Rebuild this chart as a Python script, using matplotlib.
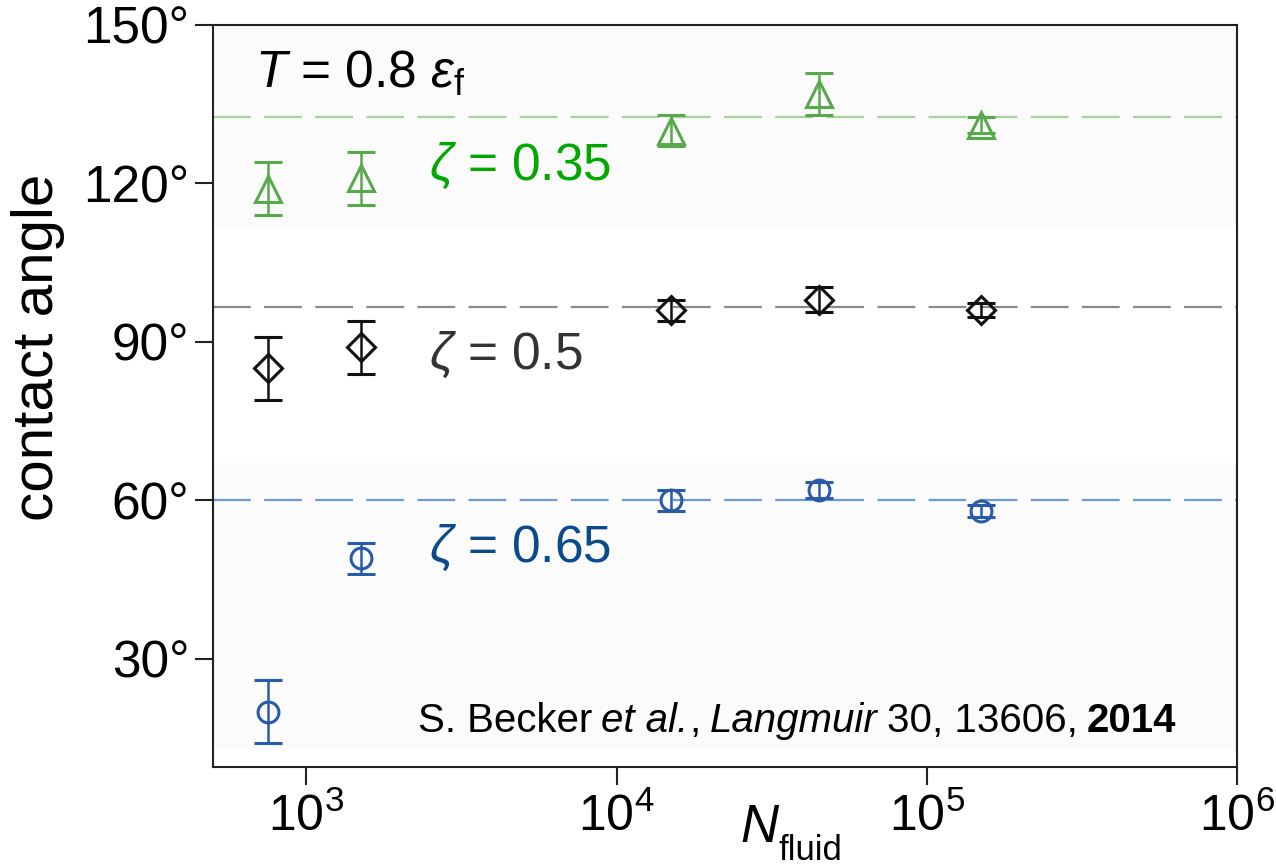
import matplotlib
matplotlib.use('Agg')
import matplotlib.pyplot as plt
from matplotlib import font_manager

# data
n_fluid = [750, 1500, 15000, 45000, 150000]

angle_035 = [119, 121, 130, 137, 131]
err_035 = [5, 5, 3, 4, 1.5]
angle_05 = [85, 89, 96, 98, 96]
err_05 = [6, 5, 2, 2.3, 1.3]
angle_065 = [20, 49, 60, 62, 58]
err_065 = [6, 3, 2, 1.5, 1.1]

ref_angles = [132.5, 96.6, 60]
zeta_labels = ['0.35', '0.5', '0.65']
zeta_text_y = [120.7, 84.9, 48.4]

y_ticks = [30, 60, 90, 120, 150]
x_ticks = [1e3, 1e4, 1e5, 1e6]
x_ticklabels = [r'$\mathregular{10^{3}}$', r'$\mathregular{10^{4}}$',
                r'$\mathregular{10^{5}}$', r'$\mathregular{10^{6}}$']

names = {f.name for f in font_manager.fontManager.ttflist}
narrow = 'Liberation Sans Narrow' if 'Liberation Sans Narrow' in names else 'Liberation Sans'

plt.rcParams['font.family'] = ['Liberation Sans', 'DejaVu Sans']
plt.rcParams['mathtext.fontset'] = 'custom'
plt.rcParams['mathtext.rm'] = 'Liberation Sans'
plt.rcParams['mathtext.it'] = 'Liberation Sans:italic'

fig = plt.figure(figsize=(12.76, 8.65), dpi=100)
ax = fig.add_axes([213 / 1276, 1 - 767 / 865, 1024 / 1276, 742 / 865])

ax.set_xscale('log')
ax.set_xlim(500, 1e6)
ax.set_ylim(9.5, 150)

# faint background bands
ax.axhspan(111.8, 150, color='#fbfbfb', zorder=0, lw=0)
ax.axhspan(12.8, 67.1, color='#fbfbfb', zorder=0, lw=0)

# reference lines
line_cols = ['#a5d39d', '#8a8a8a', '#6e9bd6']
for v, c in zip(ref_angles, line_cols):
    ax.axhline(v, color=c, lw=1.6, dashes=(17, 6), zorder=1)

series = [
    (angle_035, err_035, '^', '#58a94c', 19),
    (angle_05, err_05, 'D', '#111111', 14),
    (angle_065, err_065, 'o', '#2a5ba8', 15),
]
for ys, es, m, c, ms in series:
    ax.errorbar(n_fluid, ys, yerr=es, fmt=m, color=c, mfc='none', mec=c,
                ms=ms, mew=2.2, elinewidth=1.8, capsize=10, capthick=1.8,
                zorder=3)

# zeta labels
text_cols = ['#00a800', '#333333', '#0b4b8c']
for lab, yv, c in zip(zeta_labels, zeta_text_y, text_cols):
    ax.text(2480, yv, r'$\zeta$ = ' + lab, color=c, fontsize=37, va='baseline')

ax.text(0.041, 138.1, r'$T$ = 0.8 $\varepsilon_\mathregular{f}$', fontsize=37,
        va='baseline', transform=ax.get_yaxis_transform(), color='black')

# citation, pieced together for the mixed styles
cite = [('S. Becker', 'normal', 'normal', 0),
        ('et al.', 'italic', 'normal', 6.6),
        (',', 'normal', 'normal', 0.5),
        ('Langmuir', 'italic', 'normal', 6.6),
        ('30, 13606,', 'normal', 'normal', 6.6),
        ('2014', 'normal', 'bold', 6.6)]
t = ax.text(0.2002, 0.047, cite[0][0], transform=ax.transAxes, fontsize=29,
            family=narrow, va='baseline')
for s, st, wt, gap in cite[1:]:
    t = ax.annotate(s, xy=(1, 0), xycoords=t, xytext=(gap, 0),
                    textcoords='offset points', fontsize=29, family=narrow,
                    style=st, weight=wt, va='bottom', ha='left')

# x label: N_fluid
tn = ax.text(0.515, -0.101, 'N', transform=ax.transAxes, fontsize=38,
             family=narrow, style='italic', va='baseline')
ax.annotate('fluid', xy=(1, 0), xycoords=tn, xytext=(0, -5),
            textcoords='offset points', fontsize=25, family=narrow,
            va='baseline', ha='left')

ax.text(-0.171, 0.565, 'contact angle', transform=ax.transAxes, rotation=90,
        fontsize=42, family=narrow, ha='center', va='center')

ax.set_xticks(x_ticks, labels=x_ticklabels)
ax.minorticks_off()
ax.set_yticks(y_ticks, labels=[f'{v}°' for v in y_ticks])

ax.tick_params(axis='both', direction='out', length=13, width=1.5, color='#222222')
ax.tick_params(axis='x', labelsize=36, labelfontfamily=narrow, pad=6)
ax.tick_params(axis='y', labelsize=37, pad=4)

for sp in ax.spines.values():
    sp.set_linewidth(1.5)
    sp.set_color('#222222')

fig.savefig('out.png', dpi=100)
